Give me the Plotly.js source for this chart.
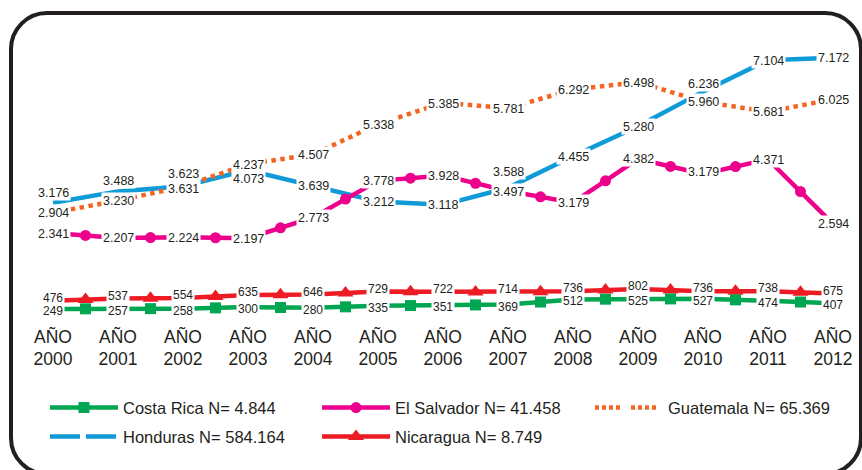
<!DOCTYPE html>
<html>
<head>
<meta charset="utf-8">
<script src="https://cdn.plot.ly/plotly-3.0.1.min.js"></script>
<style>
  html, body { margin: 0; padding: 0; background: #fff; overflow: hidden; }
  #wrap { position: relative; width: 862px; height: 470px; overflow: hidden; }
  #chart { position: absolute; left: 0; top: 0; width: 862px; height: 470px; }
  #frame { position: absolute; left: 9px; top: 11px; width: 854px; height: 465px;
           box-sizing: border-box; border: 4.5px solid #231f20; border-radius: 38px;
           pointer-events: none; }
</style>
</head>
<body>
<div id="wrap">
  <div id="chart"></div>
  <div id="frame"></div>
</div>
<script>
// ---- data ----
const years = ['2000','2001','2002','2003','2004','2005','2006','2007','2008','2009','2010','2011','2012'];
const tickPrefix = 'AÑO';

// values as drawn on the chart
const honduras   = [3176, 3488, 3631, 4073, 3639, 3212, 3118, 3588, 4455, 5280, 6236, 7104, 7172];
const guatemala  = [2904, 3230, 3623, 4237, 4507, 5338, 5930, 5781, 6292, 6498, 5960, 5681, 6025];
const elSalvador = [2341, 2207, 2224, 2197, 2773, 3778, 3928, 3497, 3179, 4382, 3970, 4371, 2594];
const nicaragua  = [476, 537, 554, 635, 646, 729, 722, 714, 736, 802, 736, 738, 675];
const costaRica  = [249, 257, 258, 300, 280, 335, 351, 369, 512, 525, 527, 474, 407];

// data labels as printed on the chart
const hondurasLabels   = ['3.176','3.488','3.631','4.073','3.639','3.212','3.118','3.588','4.455','5.280','6.236','7.104','7.172'];
const guatemalaLabels  = ['2.904','3.230','3.623','4.237','4.507','5.338','5.385','5.781','6.292','6.498','5.960','5.681','6.025'];
const elSalvadorLabels = ['2.341','2.207','2.224','2.197','2.773','3.778','3.928','3.497','3.179','4.382','3.179','4.371','2.594'];
const nicaraguaLabels  = ['476','537','554','635','646','729','722','714','736','802','736','738','675'];
const costaRicaLabels  = ['249','257','258','300','280','335','351','369','512','525','527','474','407'];

const seriesNames = ['Costa Rica N= 4.844', 'El Salvador N= 41.458', 'Guatemala N= 65.369',
                     'Honduras N= 584.164', 'Nicaragua N= 8.749'];

// ---- styling ----
const FONT = '"Liberation Sans", Arial, sans-serif';
const TXT = '#231f20';
const C = { cr: '#00a651', es: '#ec008c', gu: '#f26522', ho: '#0f9bd7', ni: '#ed1c24' };

const idx = years.map((_, i) => i);
const mids = arr => arr.slice(1).map((v, i) => (arr[i] + v) / 2);
const midX = idx.slice(1).map(i => i - 0.5);

// label vertical nudges (px) to avoid overlaps, as in the original
const hoShift = [10, 11, -2, -8, 0, 0, 0, 16, 0, 0, 8, 0, 0];
const guShift = [0, 0, 13, 0, 0, 0, -1, 0, 0, 0, 0, 0, 0];
const esShift = [0, 0, 0, 0, 0, 0, 0, 0, 0, 0, 2, 0, 0];

const traces = [];
function lineTrace(y, color, dash) {
  return { x: idx, y: y, type: 'scatter', mode: 'lines', showlegend: false, hoverinfo: 'skip',
           line: { color: color, width: 4.5, dash: dash || 'solid' } };
}
function midTrace(y, color, symbol, size) {
  return { x: midX, y: mids(y), type: 'scatter', mode: 'markers', showlegend: false, hoverinfo: 'skip',
           marker: { color: color, symbol: symbol, size: size } };
}
traces.push(lineTrace(honduras, C.ho));
traces.push(lineTrace(guatemala, C.gu, 'dot'));
traces.push(lineTrace(elSalvador, C.es));
traces.push(lineTrace(nicaragua, C.ni));
traces.push(lineTrace(costaRica, C.cr));
traces.push(midTrace(elSalvador, C.es, 'circle', 11));
traces.push(midTrace(nicaragua, C.ni, 'triangle-up', 14));
traces.push(midTrace(costaRica, C.cr, 'square', 11));

// legend entries (one legend box per entry so they sit in a 3-column grid)
function legTrace(name, legend, opts) {
  return Object.assign({ x: [null], y: [null], type: 'scatter', name: name, legend: legend,
                         hoverinfo: 'skip', showlegend: true }, opts);
}
traces.push(legTrace(seriesNames[0], 'legend',  { mode: 'lines+markers', line: { color: C.cr, width: 4.5 }, marker: { color: C.cr, symbol: 'square', size: 11 } }));
traces.push(legTrace(seriesNames[1], 'legend2', { mode: 'lines+markers', line: { color: C.es, width: 4.5 }, marker: { color: C.es, symbol: 'circle', size: 11 } }));
traces.push(legTrace(seriesNames[2], 'legend3', { mode: 'lines', line: { color: C.gu, width: 4.5, dash: '4px,3px,4px,3px,4px,3px,4px,11px' } }));
traces.push(legTrace(seriesNames[3], 'legend4', { mode: 'lines', line: { color: C.ho, width: 4.5, dash: '30px,6px' } }));
traces.push(legTrace(seriesNames[4], 'legend5', { mode: 'lines+markers', line: { color: C.ni, width: 4.5 }, marker: { color: C.ni, symbol: 'triangle-up', size: 14 } }));

// data labels
const annotations = [];
function addLabels(vals, labels, shifts, size, h) {
  vals.forEach((v, i) => {
    annotations.push({ x: i, y: v, xref: 'x', yref: 'y', text: labels[i], showarrow: false,
                       bgcolor: '#ffffff', borderpad: 1, height: h, yshift: shifts[i],
                       font: { family: FONT, size: size, color: TXT } });
  });
}
addLabels(elSalvador, elSalvadorLabels, esShift, 12.5, 13);
addLabels(guatemala, guatemalaLabels, guShift, 12.5, 13);
addLabels(honduras, hondurasLabels, hoShift, 12.5, 13);
addLabels(costaRica, costaRicaLabels, costaRica.map(() => -2), 12, 10);
addLabels(nicaragua, nicaraguaLabels, nicaragua.map(() => 3), 12, 10);

const legendCommon = {
  orientation: 'v', xanchor: 'left', yanchor: 'middle', itemwidth: 68,
  font: { family: FONT, size: 16.5, color: TXT }, bgcolor: 'rgba(0,0,0,0)',
  itemclick: false, itemdoubleclick: false
};
const row1 = -0.303, row2 = -0.403;
const col1 = 0.0216, col2 = 0.3486, col3 = 0.6767;

const layout = {
  width: 862, height: 470,
  margin: { l: 27, r: 3, t: 30, b: 150 },
  paper_bgcolor: '#ffffff', plot_bgcolor: '#ffffff',
  font: { family: FONT, color: TXT },
  showlegend: true,
  xaxis: {
    range: [-0.4, 12.4], tickvals: idx, ticktext: years.map(y => tickPrefix + '<br>' + y),
    showgrid: false, zeroline: false, showline: false, ticks: '', ticklabelstandoff: 4,
    tickfont: { family: FONT, size: 17.5, color: TXT }, fixedrange: true
  },
  yaxis: { range: [-55, 7934], visible: false, showgrid: false, zeroline: false, fixedrange: true },
  legend:  Object.assign({}, legendCommon, { x: col1, y: row1 }),
  legend2: Object.assign({}, legendCommon, { x: col2, y: row1 }),
  legend3: Object.assign({}, legendCommon, { x: col3, y: row1 }),
  legend4: Object.assign({}, legendCommon, { x: col1, y: row2 }),
  legend5: Object.assign({}, legendCommon, { x: col2, y: row2 }),
  annotations: annotations
};

Plotly.newPlot('chart', traces, layout, { staticPlot: true, displayModeBar: false });
</script>
</body>
</html>
